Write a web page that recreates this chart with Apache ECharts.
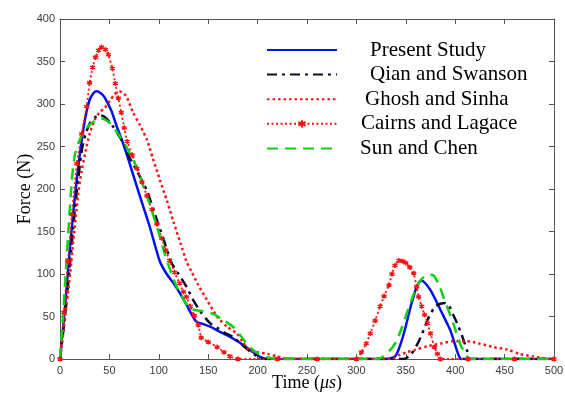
<!DOCTYPE html>
<html>
<head>
<meta charset="utf-8">
<script src="https://cdn.jsdelivr.net/npm/echarts@6/dist/echarts.min.js"></script>
<style>html,body{margin:0;padding:0;background:#fff}#c{width:565px;height:397px}</style>
</head>
<body>
<div id="c"></div>
<script>
// ---- data (time in µs, force in N) ----
const xTicks = [0, 50, 100, 150, 200, 250, 300, 350, 400, 450, 500];
const yTicks = [0, 50, 100, 150, 200, 250, 300, 350, 400];
const seriesNames = ['Present Study', 'Qian and Swanson', 'Ghosh and Sinha', 'Cairns and Lagace', 'Sun and Chen'];

const presentStudy = [[0,0],[5,60],[10,130],[15,190],[20,240],[25,280],[30,305],[34,313],[37,315],[41,313],[45,308],[52,292],[57,275],[65,250],[71,228],[81,191],[91,155],[101,115],[108,100],[115,89],[121,78],[127,66],[133,53],[138,44],[145,41],[152,38],[160,33],[169,28],[178,22],[186,16],[193,10],[199,5],[205,1],[210,0],[330,0],[339,3],[343,12],[348,30],[352,48],[355,62],[358,74],[361,85],[364,91],[366,92],[369,90],[375,81],[380,70],[385,58],[390,46],[395,34],[399,20],[402,9],[404,3],[406,0],[500,0]];

const qianSwanson = [[0,0],[5,50],[10,110],[15,175],[22,245],[26,265],[30,277],[35,284],[40,287],[45,285],[50,279],[54,273],[60,262],[64,254],[70,238],[78,221],[88,198],[95,174],[100,157],[105,140],[113,113],[120,100],[128,85],[135,69],[142,56],[152,42],[160,36],[168,30],[175,26],[182,19],[190,11],[197,5],[203,2],[208,0],[348,0],[355,5],[362,18],[368,34],[372,46],[376,55],[380,62],[385,65],[390,66],[394,62],[398,52],[402,42],[407,27],[412,10],[415,0],[500,0]];

const ghoshSinha = [[0,0],[5,48],[10,98],[14,145],[18.5,195],[22,222],[26,245],[30,265],[35,281],[40,290],[45,295],[50,303],[55,311],[60,315],[65,312],[68,307],[74,290],[81,275],[88,258],[94,236],[101,211],[108,187],[115,161],[122,136],[128,115],[133,103],[140,87],[149,69],[159,50],[169,38],[179,30],[185,20],[192,10],[200,8],[210,6],[220,3],[230,0],[335,0],[344,5],[351,8],[360,11],[372,15],[385,18],[398,21],[412,21],[425,18],[439,14],[453,11],[465,6],[479,3],[496,0],[500,0]];

const cairnsLagace = [[0,0],[4,55],[8,115],[12,170],[17,230],[22,265],[27,297],[30,325],[33,343],[36,355],[39,363],[42,367],[46,364],[49,358],[53,342],[56,324],[59,307],[62,290],[65,272],[68,256],[73,240],[78,224],[83,208],[88,192],[93,176],[98,159],[103,142],[107,128],[111,116],[116,102],[121,89],[125,79],[128,73],[132,62],[136,51],[140,40],[143,25],[150,20],[159,14],[166,8],[172,3],[180,0],[220,0],[260,0],[300,0],[305,8],[310,18],[314,30],[319,45],[324,62],[328,74],[333,87],[336,100],[339,110],[343,116],[347,115],[350,113],[354,108],[358,101],[361,85],[363,73],[366,62],[369,52],[372,42],[375,30],[379,14],[382,6],[385,0],[413,0],[460,0],[500,0]];

const sunChen = [[0,0],[3,50],[6,105],[9,160],[12,210],[15,240],[20,258],[27,272],[35,280],[42,283],[50,278],[57,268],[67,250],[78,225],[84,205],[90,185],[95,167],[100,148],[105,128],[110,110],[117,88],[125,70],[130,62],[135,58],[145,56],[155,53],[165,46],[175,38],[183,27],[192,14],[200,7],[210,2],[220,0],[320,0],[326,2],[331,7],[336,13],[341,22],[346,37],[351,54],[356,70],[361,85],[366,94],[372,99],[376,99],[379,97],[384,86],[388,73],[393,58],[398,42],[402,28],[405,18],[409,8],[412,3],[415,0],[500,0]];

const legendPad = {'Present Study':28,'Qian and Swanson':28,'Ghosh and Sinha':23,'Cairns and Lagace':19,'Sun and Chen':18};

const chart = echarts.init(document.getElementById('c'), null, {renderer:'canvas'});
const axisCol = '#555';
const labelStyle = {color:'#3a3a3a', fontFamily:'Liberation Sans, Arial, sans-serif', fontSize:11};
function baseX(extra){return Object.assign({type:'value',min:xTicks[0],max:xTicks[xTicks.length-1],interval:50,
  axisLine:{show:true,onZero:false,lineStyle:{color:axisCol,width:1}},axisTick:{show:true,inside:true,length:5,lineStyle:{color:axisCol}},
  splitLine:{show:false}},extra);}
function baseY(extra){return Object.assign({type:'value',min:yTicks[0],max:yTicks[yTicks.length-1],interval:50,
  axisLine:{show:true,onZero:false,lineStyle:{color:axisCol,width:1}},axisTick:{show:true,inside:true,length:5,lineStyle:{color:axisCol}},
  splitLine:{show:false}},extra);}

const serif = 'Liberation Serif, Times New Roman, serif';
const rich = {};
Object.keys(legendPad).forEach(k=>{rich['p'+legendPad[k]]={width:legendPad[k]};});

const legendData = seriesNames.map(n => n === 'Cairns and Lagace' ? {name:n} : {name:n, itemStyle:{opacity:0}});

const option = {
  animation:false,
  backgroundColor:'#fff',
  grid:{left:60,right:11,top:19,bottom:38,containLabel:false,outerBoundsMode:'none'},
  legend:{
    orient:'vertical', left:261, top:34.5, itemWidth:70, itemHeight:9, itemGap:3.6,
    data:legendData,
    textStyle:{fontFamily:serif,fontSize:21,color:'#000',lineHeight:20,rich:rich},
    formatter:function(n){ return '{p'+legendPad[n]+'|}'+n; }
  },
  xAxis:[
    baseX({position:'bottom',axisLabel:Object.assign({margin:6},labelStyle),
      name:'Time ({i|μs})',nameLocation:'middle',nameGap:15,nameMoveOverlap:false,
      nameTextStyle:{fontFamily:serif,fontSize:18,color:'#000',verticalAlign:'top',
        rich:{i:{fontFamily:serif,fontStyle:'italic',fontSize:18,color:'#000'}}}}),
    baseX({position:'top',axisLabel:{show:false}})
  ],
  yAxis:[
    baseY({position:'left',axisLabel:Object.assign({margin:5},labelStyle),
      name:'Force (N)',nameLocation:'middle',nameGap:26,nameMoveOverlap:false,
      nameTextStyle:{fontFamily:serif,fontSize:18,color:'#000'}}),
    baseY({position:'right',axisLabel:{show:false}})
  ],
  series:[
    {name:seriesNames[0],type:'line',data:presentStudy,smooth:0.25,symbol:'none',
      lineStyle:{color:'#0010f0',width:2.5},itemStyle:{color:'#0010f0'}},
    {name:seriesNames[1],type:'line',data:qianSwanson,smooth:0.25,symbol:'none',
      lineStyle:{color:'#0a0a30',width:2.5,type:[10,5,3,5]},itemStyle:{color:'#0a0a30'}},
    {name:seriesNames[2],type:'line',data:ghoshSinha,smooth:0.25,symbol:'none',
      lineStyle:{color:'#ff1010',width:2.5,type:[2.5,3]},itemStyle:{color:'#ff1010'}},
    {name:seriesNames[3],type:'line',data:cairnsLagace,smooth:0.1,symbol:'path://M0,-5L0,5M-4.5,-2.5L4.5,2.5M-4.5,2.5L4.5,-2.5',symbolSize:5,showSymbol:true,
      lineStyle:{color:'#ff1010',width:1.8,type:[2,2.5]},itemStyle:{color:'#ff1010',borderColor:'#ff1010',borderWidth:1.5}},
    {name:seriesNames[4],type:'line',data:sunChen,smooth:0.25,symbol:'none',
      lineStyle:{color:'#10d010',width:2.5,type:[11,7]},itemStyle:{color:'#10d010'}}
  ]
};
chart.setOption(option);
</script>
</body>
</html>
